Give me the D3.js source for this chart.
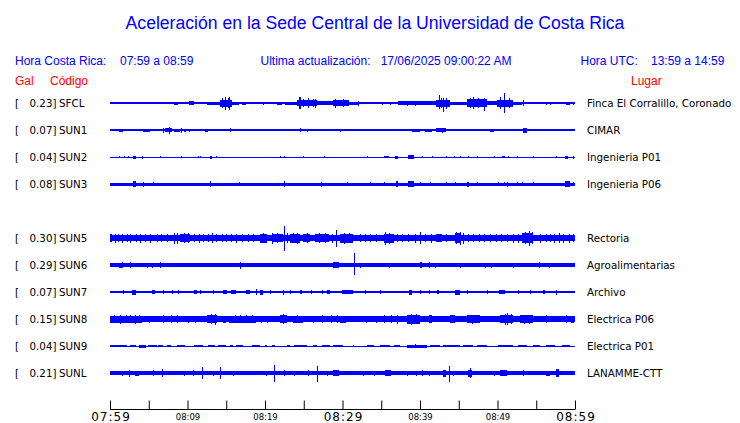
<!DOCTYPE html>
<html><head><meta charset="utf-8">
<script src="https://cdn.jsdelivr.net/npm/d3@7"></script>
<style>
html,body{margin:0;padding:0;background:#fff;}
svg{display:block;}
</style></head>
<body>
<svg id="chart" width="740" height="423"></svg>
<script>
// ---------- data ----------
const title = "Aceleración en la Sede Central de la Universidad de Costa Rica";
const headerCR = ["Hora Costa Rica:", "07:59 a 08:59"];
const headerUpd = ["Ultima actualización:", "17/06/2025 09:00:22 AM"];
const headerUTC = ["Hora UTC:", "13:59 a 14:59"];

const rowOrder = ["SFCL","SUN1","SUN2","SUN3","SUN4","SUN5","SUN6","SUN7","SUN8","SUN9","SUNL"];
const codes  = ["SFCL","SUN1","SUN2","SUN3","SUN5","SUN6","SUN7","SUN8","SUN9","SUNL"];
const gal    = [0.23, 0.07, 0.04, 0.08, 0.30, 0.29, 0.07, 0.15, 0.04, 0.21];
const places = ["Finca El Corralillo, Coronado","CIMAR","Ingenieria P01","Ingenieria P06",
                "Rectoria","Agroalimentarias","Archivo","Electrica P06","Electrica P01","LANAMME-CTT"];
// background noise level (relative amplitude) of each trace
const baseAmp = [0.6, 0.6, 0.5, 1.5, 3.2, 1.8, 1.4, 2.6, 0.5, 1.6];

// minutes after 07:59 : [start, end, amplitude up, amplitude down]
const sfcl = [[0.6,0.7,1.2],[1.3,1.4,1.2],[2.1,2.2,1.2],[3.0,3.1,1.2],[4.0,4.1,1.2],[4.6,4.8,1.2],[5.8,5.9,1.2],[6.4,6.5,1.2],[7.2,7.3,1.2],[8.3,8.8,1.5],[10.0,10.1,1.2],[10.2,10.9,1.7],[11.2,11.3,1.3],[11.8,11.9,1.3],
[12.5,14.2,1.5],[14.2,15.7,3.5],[14.5,14.6,5],[14.9,15.0,6.5,7],[15.4,15.5,6,6.5],[15.2,15.3,5],
[15.7,16.6,1.5],[17.0,17.6,1.5],[18.7,19.6,1.3],[19.8,19.9,1.5],[20.6,21.1,1.2],[21.5,22.2,1.5],[22.6,24.1,1.5],
[24.1,26.7,3],[24.4,24.6,6,5.5],[24.9,25.0,4],[25.5,25.7,5,4.5],[26.2,26.3,4],[26.5,26.6,4.5],
[26.7,28.8,1.8],[28.8,29.7,3],[29.0,29.1,4.5],
[29.7,30.8,3],[30.1,30.2,4],[30.8,32.0,1.5],[32.0,32.1,2.5],
[32.1,37.2,0.9],[35.1,35.2,1.5],[36.1,36.2,1.5],
[37.2,39.6,1.6],[38.3,38.4,2.5],[39.4,39.5,2.5],[39.6,42.0,2.1],
[42.0,43.9,3.5],[42.4,42.5,8,6],[42.7,42.8,5],[43.0,43.1,5,8.5],[43.4,43.5,5.5],
[43.9,46.0,1.5],[46.0,48.6,4],[46.4,46.5,5],[46.9,47.0,6,6],[47.5,47.6,5],[48.2,48.3,5,7.5],
[48.6,49.9,2],[49.9,52.0,3.5],[50.3,50.4,6],[50.9,51.0,10,10],[51.5,51.6,5],
[52.0,53.1,1.5],[53.3,53.4,3],[53.1,55.9,1.3],[56.3,56.4,1.5],[56.8,56.9,1.5],[58.9,59.4,1.5],[59.8,59.9,1.5]];

const sun1 = [[1.2,1.7,1.5],[2.5,3.4,1.3],[3.9,4.0,1.3],[4.3,5.1,1.5],[5.6,5.7,1.2],[6.8,6.9,2.5],[7.1,8.0,2],[7.6,7.7,3.5],[8.2,9.0,1.5],[9.1,9.2,2.5],[9.5,9.8,1.5],[10.2,10.3,1.5],[11.2,11.3,1],[11.6,11.7,1],[12.3,12.6,1.5],[13.0,13.1,1.2],[14.5,14.6,1],[14.8,14.9,1.2],[15.5,15.6,1.8],[17.4,17.5,1],[21.9,22.0,1.2],[23.0,23.1,1],[24.5,24.6,1.7],[25.4,25.5,1.5],[26.2,26.3,1],[27.3,27.4,1],[28.4,28.5,1.3],[29.2,29.3,1],
[29.7,29.8,1.5],[31.4,31.5,1],[32.7,32.8,1],[34.8,35.5,1.3],[36.3,36.4,1],[37.4,37.5,1],[38.3,38.4,1],[39.0,40.0,1.5],[40.6,41.5,1.5],[42.0,43.4,1.6],[42.9,43.0,2.5],[44.1,44.2,1],[45.2,45.3,1],[46.7,46.8,1],[47.4,47.5,1],[48.2,48.6,1.2],[49.0,49.5,1.5],[50.2,50.3,1],[51.1,51.2,1.2],[51.8,51.9,1.2],[52.5,52.9,1.3],[53.3,53.8,2.5],[54.4,55.7,1.3],[56.6,57.9,1.3],[58.7,59.4,1.3],[59.8,59.9,1.2]];

const sun2 = [[1.2,1.3,1],[1.8,1.9,1],[2.3,2.4,1],[3.0,3.4,1.5],[4.1,4.2,1.5],[6.4,6.5,0.8],[9.1,9.2,1],[11.4,11.5,1.3],[11.6,11.7,1.3],[12.9,13.2,1.5],[13.7,13.8,1.2],[21.9,22.0,1],[22.5,22.6,1.2],[24.9,25.0,0.8],[27.6,27.7,0.8],
[33.2,33.3,0.8],[35.4,36.0,1.2],[36.8,37.2,1.5],[38.5,39.2,1.8],[40.3,40.4,1],[41.6,41.7,0.8],[43.4,43.5,0.8],[44.4,44.5,0.8],[45.2,45.3,1.3],[46.2,46.3,1],[47.3,47.4,1],[49.5,49.6,0.8],[50.6,51.0,1],[51.3,51.4,1.3],[52.5,52.6,1.3],[54.6,54.7,1],[57.6,57.7,0.8],[58.7,59.1,1.5],[59.8,59.9,1.5]];

const sun3 = [[3.0,3.4,2.7],[4.2,4.3,2.5],[5.6,5.7,2],[12.9,13.0,2.7],[16.6,16.7,2],[22.4,22.5,2.7],[27.2,27.3,2.5],
[30.6,30.7,2],[33.5,33.6,2],[35.4,35.5,2],[36.9,37.2,2.7],[38.5,39.2,2.8],[40.0,40.1,2],[41.3,41.4,2],[43.4,43.5,2],[44.5,44.6,2],[46.0,46.3,2.5],[47.3,47.4,2],[50.1,50.2,2],[50.8,50.9,2],[51.2,51.4,2.5],[52.5,52.6,2.2],[53.1,53.2,2],[54.6,54.7,2],[58.7,59.4,2.8],[59.8,59.9,2]];

const sun5 = [[0.0,0.3,4],[0.6,0.7,4.5],[1.0,1.1,4],[1.5,1.6,4.5],[2.2,2.3,4],[2.6,2.7,4.5],[3.3,3.4,4],[3.9,4.0,4.5],[4.5,4.6,4],[5.2,5.3,4.5],[6.0,6.1,4],[6.6,6.7,4],[7.3,7.4,4],[8.3,8.4,5.5],[8.6,8.7,5,5.5],[9.0,10.3,4],[9.5,9.6,5],[10.0,10.1,5],[10.8,10.9,4],[11.5,11.6,4.5],[12.0,12.1,4],[12.6,12.7,4],[13.1,13.2,5],[13.7,13.8,4],[14.4,14.5,4],[15.0,15.1,4],[15.6,15.7,3.8],[16.3,16.4,4.5],[17.0,17.1,3.8],[17.8,17.9,4],[18.5,18.6,4],[19.3,20.2,4.5],[19.7,19.8,5],[20.9,21.0,5.5],[21.0,22.3,4],[21.5,21.6,5],[22.4,22.5,12,13],[22.8,22.9,5],[23.2,24.5,4.5],[23.6,23.7,5],[24.1,24.2,5.5],[24.9,25.8,4.2],[25.4,25.5,5],[26.5,28.3,4.3],[27.0,27.1,5],[27.8,27.9,5],[28.6,28.7,4.5],[29.2,29.3,7.7,9],
[29.7,31.4,4.5],[30.2,30.3,5.5],[30.9,31.0,5],[32.3,32.4,4],[32.9,33.0,4],[33.6,33.7,4],[34.3,34.4,4],[35.3,36.6,4.5],[35.5,35.6,6,6.5],[36.0,36.1,5.5],[37.0,37.1,4],[37.7,37.8,4],[38.5,38.6,4],[39.3,39.4,4.5],[40.0,40.1,6,6],[40.6,40.7,4],[41.4,41.5,4.5],[42.0,42.9,4],[43.4,43.5,4],[44.5,45.2,5],[44.7,44.8,6],[45.1,45.2,6.5],[45.6,45.7,5.5],[46.2,46.3,4],[46.9,47.0,4],[47.6,47.7,4],[48.3,48.4,4],[49.0,49.1,4],[49.8,49.9,4],[50.5,50.6,4],[51.2,51.3,4],[52.0,52.1,4.5],[52.6,52.7,4.5],[53.1,54.6,5],[53.5,53.6,6],[54.1,54.2,7,8.3],[54.5,54.6,6],[55.5,55.6,4.5],[56.2,56.3,4],[56.8,56.9,4],[57.3,57.4,4.5],[57.9,58.0,5],[58.5,58.6,4.5],[59.2,59.3,4.5],[59.7,59.9,4]];

const sun6 = [[1.1,1.7,2.5],[1.6,1.7,3],[2.6,2.7,2.7],[4.8,4.9,2.5],[5.4,5.5,2.5],[6.5,6.6,2.7],[13.3,13.4,2],[16.8,16.9,3.5],[20.2,20.3,2],[25.4,25.5,2.2],[28.8,29.5,2.7],
[31.5,31.6,12.3,10],[32.3,32.4,2.5],[36.0,36.1,2.5],[36.8,36.9,2],[37.8,37.9,2.2],[40.0,40.3,3.2],[41.1,41.2,3],[41.9,42.0,2.5],[43.8,43.9,2],[44.4,44.5,2],[45.2,45.3,2.5],[46.9,47.0,2],[48.4,48.5,2.5],[49.1,49.2,2.5],[51.2,51.3,2],[52.0,52.1,2.5],[55.4,55.5,3],[56.7,56.8,2.5],[59.8,59.9,2]];

const sun7 = [[1.7,1.8,2.2],[2.9,3.3,2.5],[5.4,5.8,2.3],[6.8,6.9,2.2],[8.0,8.1,2.2],[8.8,8.9,2.2],[10.8,11.2,2.3],[11.6,11.8,2.3],[13.3,13.4,2.2],[14.6,15.1,2.3],[15.6,16.3,2.3],[17.6,18.0,2.2],[18.9,19.0,3],[19.3,19.8,2.5],[20.6,20.7,2.2],[22.3,22.4,2.5],[23.2,23.3,2.2],[24.5,24.8,2.3],[25.9,26.0,2.2],[27.3,27.4,2.2],[28.0,28.4,2.3],
[29.9,31.4,2.2],[32.9,33.0,2.2],[34.8,34.9,2.2],[38.6,39.0,2.5],[40.0,40.1,2.2],[41.1,41.2,2.2],[42.2,42.4,2.2],[44.5,45.2,2.5],[46.0,46.1,2.2],[48.6,48.7,2.2],[50.2,51.0,2.3],[52.7,52.8,2.2],[54.2,54.3,2.2],[55.9,56.1,2.3],[57.6,57.7,2.5]];

const sun8 = [[0.0,4.1,3.5],[0.5,0.6,4.2],[1.3,1.4,4.5],[2.0,2.1,4],[2.6,2.7,4.2],[3.2,3.3,4,5.3],[3.8,3.9,4],[5.0,5.1,3.5],[6.4,9.2,3.3],[6.8,6.9,4],[7.9,8.0,4],[8.7,8.8,4],[10.0,10.1,3.5],[11.0,11.1,3.5],[12.5,13.8,4.2],[13.0,13.1,5],[13.5,13.6,5.5],[14.6,15.0,3.5],[15.3,18.9,3.5],[16.1,16.2,4.2],[16.8,16.9,4],[17.5,17.6,4.2],[18.3,18.4,4],[19.5,19.6,3.5],[20.3,20.4,3.5],[21.9,22.8,4.2],[22.3,22.4,5],[23.6,24.9,3.5],[24.1,24.2,4],[26.2,26.3,3.5],[26.8,29.7,3.2],[27.4,27.5,3.8],[28.5,28.6,3.8],[29.3,29.4,3.8],
[29.7,30.5,3.5],[32.2,38.3,3],[33.0,33.1,3.5],[34.3,34.4,3.5],[35.4,35.5,3.8],[36.2,36.3,3.8],[37.0,37.1,4.5],[38.3,40.0,4.5],[38.9,39.0,5.5,6],[39.5,39.6,5],[41.1,41.5,4],[43.9,44.5,4],[46.0,47.7,4],[46.7,46.8,4.5],[50.3,52.0,4.2],[51.0,51.1,5.5],[51.2,51.3,6.3,6.3],[51.7,51.8,5],[52.9,54.6,4],[53.4,53.5,4.5],[54.1,54.2,4.5],[56.3,56.4,4],[58.9,59.0,4],[59.5,59.9,3.5]];

const sun9 = [[0.0,2.2,1.3],[2.6,3.4,1.3],[3.7,4.7,1.5],[4.9,6.0,1.3],[6.2,6.9,1.3],[7.3,7.9,1.3],[8.6,9.7,1.3],[10.8,12.0,1.3],[12.7,13.5,1.3],[13.9,15.0,1.3],[15.5,15.9,1.3],[16.3,17.2,1.3],[18.3,19.4,1.3],[20.0,20.2,1.3],[20.9,21.3,1.3],[22.8,23.2,1.3],[23.7,25.4,1.3],[26.2,26.7,1.3],[27.3,28.4,1.3],[28.8,29.7,1.3],
[29.7,30.1,1.3],[31.4,31.5,1.2],[33.1,34.0,1.3],[34.8,36.1,1.3],[36.6,37.4,1.3],[38.3,40.9,1.5],[39.3,39.4,2],[41.3,42.6,1.3],[43.0,45.2,1.3],[45.6,46.9,1.3],[47.3,48.6,1.3],[50.1,52.0,1.3],[52.7,53.8,1.3],[54.6,55.5,1.3],[56.3,57.4,1.3],[58.3,59.4,1.3]];

const sunl = [[1.6,1.7,2.5],[2.4,2.5,3.5],[3.2,3.7,2.5],[5.5,5.6,3],[6.7,6.8,4],[9.5,9.6,2.5],[10.7,10.8,3],[11.9,12.0,6,5.7],[13.3,13.4,2.5],[14.2,14.3,6,5.7],[15.9,16.0,2.5],[20.1,20.2,2.5],[21.2,21.3,8.3,9],[22.4,22.5,3],[23.7,23.8,2.5],[25.6,25.7,3],[26.7,26.8,7,9],[28.0,28.1,2.5],[28.8,29.5,3],
[32.7,32.8,2.5],[34.0,34.1,2.5],[35.5,36.3,3],[38.3,38.4,2.5],[39.5,39.6,2.5],[40.3,40.4,3],[41.2,41.3,2.5],[43.0,43.4,3.5],[43.7,43.8,7,9],[44.3,44.4,2.5],[46.2,46.7,3.5],[46.4,46.5,5],[48.2,48.3,2],[49.5,49.6,2.5],[50.3,51.2,3],[53.3,53.4,3],[56.3,56.8,2.5],[57.6,57.9,4],[59.8,59.9,2]];

const events = [sfcl, sun1, sun2, sun3, sun5, sun6, sun7, sun8, sun9, sunl];

const tickMinutes = [0,5,10,15,20,25,30,35,40,45,50,55,60];
const tickLabels  = ["07:59","","08:09","","08:19","","08:29","","08:39","","08:49","","08:59"];
const majorLabels = ["07:59","08:29","08:59"];

// ---------- drawing ----------
const svg = d3.select("#chart");
const BLUE = "#0000ff", RED = "#ff0000";
const sans = "'Liberation Sans', Arial, sans-serif";
const dejavu = "'DejaVu Sans', sans-serif";

svg.append("text").attr("x", 375).attr("y", 28.5).attr("text-anchor","middle")
  .attr("font-family", sans).attr("font-size", 17.6).attr("fill", BLUE).text(title);

function hdr(x, t, color){
  svg.append("text").attr("x", x).attr("y", 64.5).attr("font-family", sans)
    .attr("font-size", 12).attr("fill", color || BLUE).text(t);
}
hdr(15, headerCR[0]); hdr(120, headerCR[1]);
hdr(260.5, headerUpd[0]); hdr(380.7, headerUpd[1]);
hdr(580.5, headerUTC[0]); hdr(651, headerUTC[1]);

svg.append("text").attr("x", 15).attr("y", 84.5).attr("font-family", sans).attr("font-size", 12).attr("fill", RED).text("Gal");
svg.append("text").attr("x", 50).attr("y", 84.5).attr("font-family", sans).attr("font-size", 12).attr("fill", RED).text("Código");
svg.append("text").attr("x", 631).attr("y", 84.5).attr("font-family", sans).attr("font-size", 12).attr("fill", RED).text("Lugar");

const x = d3.scaleLinear().domain([0, 60]).range([110, 575]);
const yRow = d3.scalePoint().domain(rowOrder).range([103, 373]);
const amp = d3.scaleLinear().domain([-13, 13]).range([13, -13]);

const rows = codes.map((c, i) => ({code: c, gal: gal[i], place: places[i], base: baseAmp[i], ev: events[i]}));

const g = svg.selectAll("g.row").data(rows).enter().append("g")
  .attr("class","row").attr("transform", d => `translate(0,${yRow(d.code)})`);

g.append("text").attr("x", 15).attr("y", 4).attr("font-family", dejavu).attr("font-size", 10.3).attr("fill","#000").text("[");
g.append("text").attr("x", 56.5).attr("y", 4).attr("text-anchor","end").attr("font-family", dejavu).attr("font-size", 10.3).attr("fill","#000")
  .text(d => d.gal.toFixed(2) + "]");
g.append("text").attr("x", 59).attr("y", 4).attr("font-family", dejavu).attr("font-size", 10.3).attr("fill","#000").text(d => d.code);
g.append("text").attr("x", 587).attr("y", 4).attr("font-family", dejavu).attr("font-size", 10.3).attr("fill","#000").text(d => d.place);

// base noise band
g.append("rect").attr("shape-rendering","crispEdges").attr("fill", BLUE)
  .attr("x", x(0)).attr("width", x(60) - x(0))
  .attr("y", d => amp(d.base)).attr("height", d => Math.max(1, amp(-d.base) - amp(d.base)));

// bursts / spikes
g.each(function(d){
  d3.select(this).selectAll("rect.ev").data(d.ev).enter().append("rect")
    .attr("class","ev").attr("shape-rendering","crispEdges").attr("fill", BLUE)
    .attr("x", e => x(e[0]))
    .attr("width", e => Math.max(1, x(e[1]) - x(e[0])))
    .attr("y", e => amp(e[2]))
    .attr("height", e => amp(-(e.length > 3 ? e[3] : e[2])) - amp(e[2]));
});

// time axis
const axis = d3.axisBottom(x).tickValues(tickMinutes).tickSize(-9).tickPadding(4)
  .tickFormat((m, i) => tickLabels[i]);
const ax = svg.append("g").attr("transform", "translate(0,409.5)").call(axis);
ax.select(".domain").attr("stroke","#000").attr("d", `M${x(0)},0H${x(60)}`);
ax.selectAll(".tick line").attr("stroke","#000");
ax.selectAll(".tick text")
  .attr("font-family", dejavu)
  .attr("fill","#000")
  .attr("dy", null)
  .each(function(){
    const major = majorLabels.includes(this.textContent);
    d3.select(this)
      .attr("y", major ? 11.5 : 10.5)
      .attr("font-size", major ? 12 : 8.5)
      .attr("letter-spacing", major ? 1 : 0)
      .attr("dx", major ? 0.5 : 0);
  });
</script>
</body></html>
